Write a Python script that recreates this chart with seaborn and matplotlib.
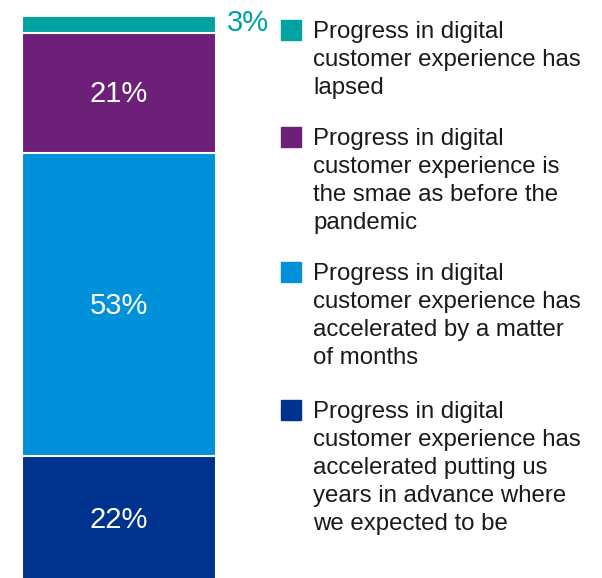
import matplotlib
matplotlib.use("Agg")
import matplotlib.pyplot as plt
import matplotlib.patches as mpatches
import seaborn as sns
import numpy as np
import pandas as pd

# ---- data (top segment first) ----
labels = [
    "Progress in digital\ncustomer experience has\nlapsed",
    "Progress in digital\ncustomer experience is\nthe smae as before the\npandemic",
    "Progress in digital\ncustomer experience has\naccelerated by a matter\nof months",
    "Progress in digital\ncustomer experience has\naccelerated putting us\nyears in advance where\nwe expected to be",
]
values = [3, 21, 53, 22]
colors = ["#00A3A1", "#6D2077", "#0091DA", "#00338D"]

sns.set_theme(style="white")
plt.rcParams['font.family'] = ['Liberation Sans', 'DejaVu Sans']

W, H = 602, 578
fig = plt.figure(figsize=(W / 100, H / 100), dpi=100)
ax = fig.add_axes([22 / W, -4 / H, 194 / W, 566 / H])

# stacked from bottom: reverse order
bottom_up_vals = values[::-1]
bottom_up_cols = colors[::-1]
cum = np.cumsum(bottom_up_vals)
# draw largest cumulative first so smaller ones overlay
for i in range(len(cum) - 1, -1, -1):
    df = pd.DataFrame({"x": ["all"], "y": [cum[i]]})
    sns.barplot(data=df, x="x", y="y", color=bottom_up_cols[i], width=1.0,
                edgecolor="white", linewidth=1.5, saturation=1, ax=ax)

ax.set_xlim(-0.5, 0.5)
ax.set_ylim(0, cum[-1])
ax.axis("off")

# value labels
starts = np.concatenate([[0], cum[:-1]])
for v, s, c in zip(bottom_up_vals, starts, bottom_up_cols):
    if v >= 10:
        ax.text(0, s + v / 2 - 0.2, f"{v}%", ha="center", va="center",
                color="white", fontsize=21)
    else:
        ax.text(0.555, s + v / 2 + 0.3, f"{v}%", ha="left", va="center",
                color=c, fontsize=21, clip_on=False)

# legend
tops = [20, 127, 262, 400]
for lab, col, t in zip(labels, colors, tops):
    fig.patches.append(mpatches.Rectangle((281 / W, 1 - (t + 20) / H), 20 / W, 20 / H,
                                          transform=fig.transFigure, color=col))
    fig.text(313 / W, 1 - (t + 1) / H, lab, ha="left", va="top",
             fontsize=17.3, color="#1a1a1a", linespacing=1.36)

fig.savefig("out.png", dpi=100)
